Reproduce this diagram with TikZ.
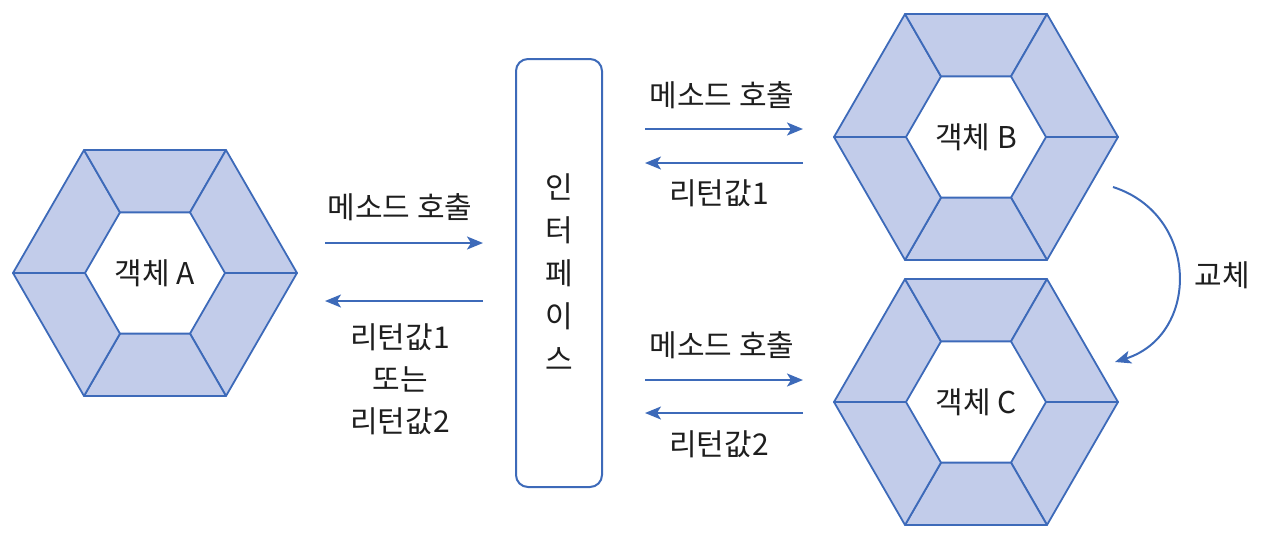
\documentclass[tikz,border=0pt]{standalone}
\usepackage{fontspec}
\setmainfont{Noto Sans CJK KR}
\usetikzlibrary{arrows.meta}
\definecolor{hexline}{RGB}{61,106,185}
\definecolor{hexfill}{RGB}{194,204,234}
\definecolor{txt}{RGB}{30,30,30}
\tikzset{
  hexpart/.style={fill=hexfill,draw=hexline,line width=0.9pt,line join=round},
  hexring/.pic={
    \foreach \a in {0,60,...,300} {
      \path[hexpart] (\a:142) -- (\a+60:142) -- (\a+60:70) -- (\a:70) -- cycle;
    }
  },
  lbl/.style={text=txt,font=\fontsize{15}{21}\selectfont,inner sep=0pt,align=center},
  msg/.style={draw=hexline,line width=1pt,-{Stealth[length=8pt,width=6.5pt,inset=2pt]}},
  ifbox/.style={draw=hexline,line width=1pt,rounded corners=6pt,fill=white}
}
\begin{document}
\begin{tikzpicture}[x=0.5pt,y=-0.5pt]
\useasboundingbox (0,0) rectangle (1265,532);
% hexagons
\pic at (155,273) {hexring};
\pic at (976,137) {hexring};
\pic at (976,402) {hexring};
\node[lbl] (A) at (155,273) {객체 A};
\node[lbl] (B) at (976,137) {객체 B};
\node[lbl] (C) at (976,402) {객체 C};
% interface
\draw[ifbox] (516,59) rectangle (602,487);
\node[lbl,font=\fontsize{15}{21.5}\selectfont] (I) at (559,272) {인\\터\\페\\이\\스};
% left arrows
\coordinate (a1) at (325,243); \coordinate (i1) at (483,243);
\coordinate (a2) at (325,301); \coordinate (i2) at (483,301);
\draw[msg] (a1) -- (i1);
\draw[msg] (i2) -- (a2);
\node[lbl] (m1) at (400,207) {메소드 호출};
\node[lbl] (r1) at (400,379) {리턴값1\\또는\\리턴값2};
% upper right arrows
\coordinate (i3) at (645,129); \coordinate (b1) at (803,129);
\coordinate (i4) at (645,163); \coordinate (b2) at (803,163);
\draw[msg] (i3) -- (b1);
\draw[msg] (b2) -- (i4);
\node[lbl] (m2) at (722,95) {메소드 호출};
\node[lbl] (r2) at (719,193) {리턴값1};
% lower right arrows
\coordinate (i5) at (645,380); \coordinate (c1) at (803,380);
\coordinate (i6) at (645,413); \coordinate (c2) at (803,413);
\draw[msg] (i5) -- (c1);
\draw[msg] (c2) -- (i6);
\node[lbl] (m3) at (722,345) {메소드 호출};
\node[lbl] (r3) at (719,444) {리턴값2};
% replacement curve
\coordinate (s) at (1113,187); \coordinate (e) at (1115,362);
\draw[msg] (s) .. controls (1200,215) and (1200,335) .. (e);
\node[lbl] (k) at (1222,275) {교체};
\end{tikzpicture}
\end{document}
